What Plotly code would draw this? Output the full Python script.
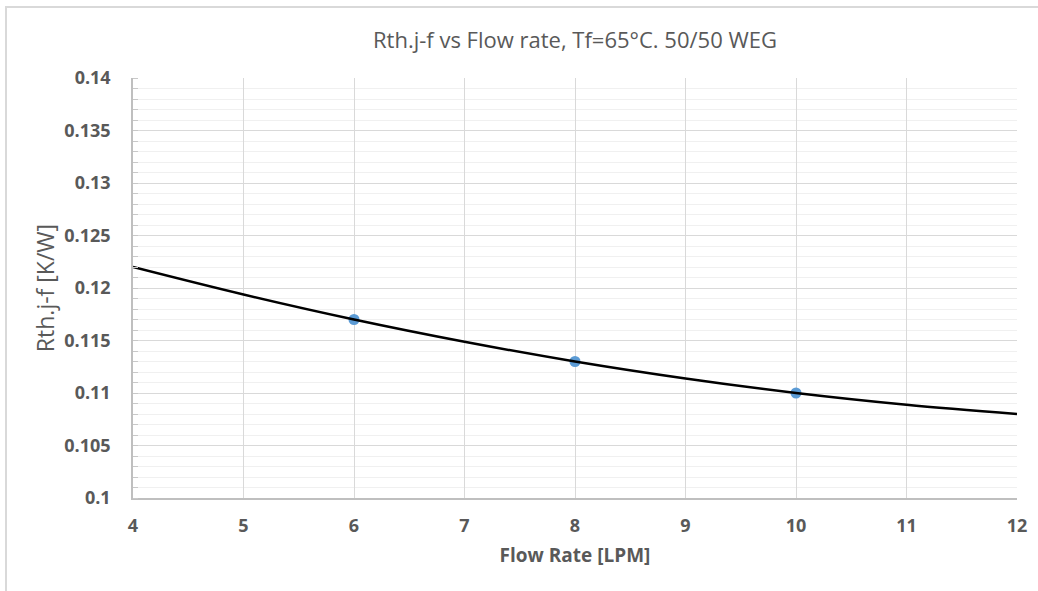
import plotly.graph_objects as go

# measured points
flow_pts = [6, 8, 10]
rth_pts = [0.117, 0.113, 0.110]

# trend line values
flow_trend = [4, 5, 6, 7, 8, 9, 10, 11, 12]
rth_trend = [0.1220, 0.11938, 0.1170, 0.11488, 0.1130, 0.11138, 0.1100, 0.10888, 0.1080]

x_ticks = [4, 5, 6, 7, 8, 9, 10, 11, 12]
y_ticks = [0.1, 0.105, 0.11, 0.115, 0.12, 0.125, 0.13, 0.135, 0.14]
y_labels = ["0.1", "0.105", "0.11", "0.115", "0.12", "0.125", "0.13", "0.135", "0.14"]

L, R, T, B = 133, 21, 78, 93
W, H = 1038, 591
pw, ph = W - L - R, H - T - B

fig = go.Figure()
fig.add_trace(go.Scatter(x=flow_pts, y=rth_pts, mode="markers",
                         marker=dict(color="#5b9bd5", size=11), showlegend=False))
fig.add_trace(go.Scatter(x=flow_trend, y=rth_trend, mode="lines",
                         line=dict(color="black", width=2.5, shape="spline"), showlegend=False))

gray = "#595959"
fig.update_layout(
    width=W, height=H, margin=dict(l=L, r=R, t=T, b=B),
    paper_bgcolor="white", plot_bgcolor="white",
    font=dict(family="Open Sans", color=gray),
    title=dict(text="Rth.j-f vs Flow rate, Tf=65°C. 50/50 WEG", x=0.5, xref="paper",
               xanchor="center", y=1 - 40 / H, yanchor="middle",
               font=dict(size=22, color=gray, family="Open Sans")),
    xaxis=dict(range=[4, 12], tickvals=x_ticks, ticktext=[str(v) for v in x_ticks],
               showgrid=True, gridcolor="#d9d9d9", gridwidth=1,
               showline=True, linecolor="#bfbfbf", linewidth=1.5,
               zeroline=False, ticks="", ticklabelstandoff=11,
               tickfont=dict(size=18, color=gray, family="Open Sans", weight="bold"),
               title=dict(text="Flow Rate [LPM]", standoff=12,
                          font=dict(size=19, color=gray, family="Open Sans", weight="bold"))),
    yaxis=dict(range=[0.1, 0.14], tickvals=y_ticks, ticktext=y_labels,
               showgrid=True, gridcolor="#d9d9d9", gridwidth=1,
               showline=True, linecolor="#bfbfbf", linewidth=1.5,
               zeroline=False, ticks="", ticklabelstandoff=17,
               tickfont=dict(size=18, color=gray, family="Open Sans", weight="bold"),
               minor=dict(dtick=0.001, showgrid=True, gridcolor="#f0f0f0", gridwidth=1,
                          ticks="inside", ticklen=5, tickcolor="#c8c8c8"),
               title=dict(text="Rth.j-f [K/W]", standoff=3,
                          font=dict(size=23, color=gray, family="Open Sans"))),
)

# outer chart border (light gray)
fig.add_shape(type="rect", xref="paper", yref="paper",
              x0=(6 - L) / pw, x1=(W + 10 - L) / pw,
              y0=(T + ph - (H + 10)) / ph, y1=(T + ph - 7) / ph,
              line=dict(color="#d9d9d9", width=2), fillcolor="rgba(0,0,0,0)", layer="below")

fig.write_html("out.html")
